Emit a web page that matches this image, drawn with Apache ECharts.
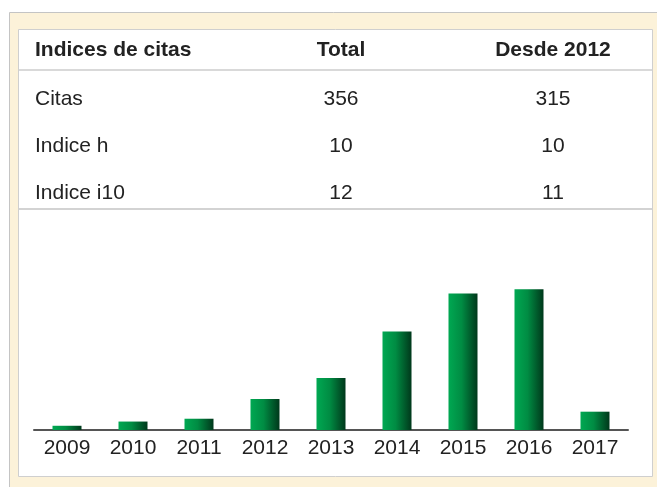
<!DOCTYPE html>
<html>
<head>
<meta charset="utf-8">
<script src="https://cdn.jsdelivr.net/npm/echarts@6/dist/echarts.min.js"></script>
<style>
  html, body { margin: 0; padding: 0; background: #fff; }
  #main { width: 657px; height: 487px; }
</style>
</head>
<body>
<div id="main"></div>
<script>
var chartDom = document.getElementById('main');
var myChart = echarts.init(chartDom);
var option;

// table
let headers = ['Indices de citas', 'Total', 'Desde 2012'];
let rowNames = ['Citas', 'Indice h', 'Indice i10'];
let totalValues = [356, 10, 12];
let since2012Values = [315, 10, 11];

// citations per year
let years = ['2009', '2010', '2011', '2012', '2013', '2014', '2015', '2016', '2017'];
let citations = [3, 6, 8, 22, 37, 70, 97, 100, 13];

let font = '"Liberation Sans", Arial, Helvetica, sans-serif';
let textColor = '#222';
let colX = [35, 341, 553];
let rowY = [99, 146, 193];

let graphics = [
  // cream frame
  { type: 'rect', z: -20, shape: { x: 9.5, y: 12.5, width: 660, height: 480 },
    style: { fill: '#fcf2d9', stroke: '#c4c4c4', lineWidth: 1 } },
  // white panel
  { type: 'rect', z: -10, shape: { x: 18.5, y: 29.5, width: 634, height: 447 },
    style: { fill: '#ffffff', stroke: '#cfcfcf', lineWidth: 1 } },
  // separators
  { type: 'line', z: -5, shape: { x1: 19, y1: 70, x2: 652, y2: 70 },
    style: { stroke: '#cccccc', lineWidth: 1.5 } },
  { type: 'line', z: -5, shape: { x1: 19, y1: 209, x2: 652, y2: 209 },
    style: { stroke: '#c4c4c4', lineWidth: 1.5 } }
];

headers.forEach(function (h, i) {
  graphics.push({
    type: 'text', z: 5,
    style: {
      text: h, x: colX[i], y: 50,
      font: 'bold 21px ' + font, fill: textColor,
      align: i === 0 ? 'left' : 'center', verticalAlign: 'middle'
    }
  });
});

rowNames.forEach(function (name, r) {
  let cells = [name, String(totalValues[r]), String(since2012Values[r])];
  cells.forEach(function (c, i) {
    graphics.push({
      type: 'text', z: 5,
      style: {
        text: c, x: colX[i], y: rowY[r],
        font: '21px ' + font, fill: textColor,
        align: i === 0 ? 'left' : 'center', verticalAlign: 'middle'
      }
    });
  });
});

option = {
  animation: false,
  backgroundColor: '#ffffff',
  graphic: graphics,
  grid: {
    left: 34,
    right: 29,
    top: 230,
    bottom: 57
  },
  xAxis: {
    type: 'category',
    data: years,
    axisLine: { lineStyle: { color: '#555', width: 2 } },
    axisTick: { show: false },
    axisLabel: {
      color: textColor,
      fontSize: 21,
      fontFamily: font,
      margin: 8
    }
  },
  yAxis: {
    type: 'value',
    min: 0,
    max: 142,
    show: false,
    splitLine: { show: false }
  },
  series: [
    {
      name: 'Citas',
      type: 'bar',
      data: citations,
      barWidth: 29,
      itemStyle: {
        color: new echarts.graphic.LinearGradient(0, 0, 1, 0, [
          { offset: 0, color: '#00a852' },
          { offset: 0.45, color: '#008c43' },
          { offset: 1, color: '#00381b' }
        ])
      }
    }
  ]
};

option && myChart.setOption(option);
</script>
</body>
</html>
